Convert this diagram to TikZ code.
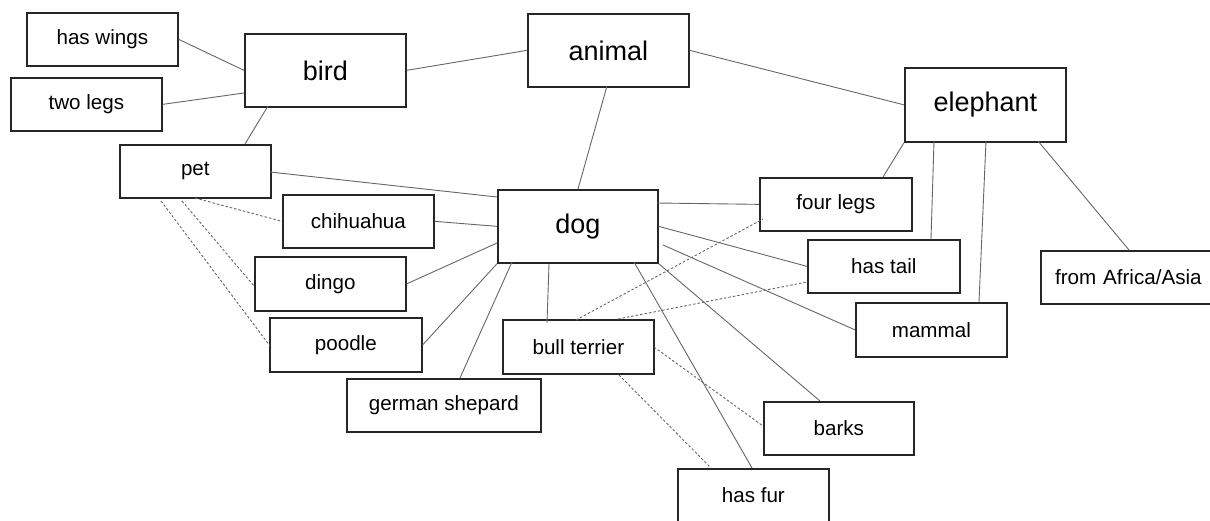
\documentclass[tikz,border=0pt]{standalone}
\usepackage{fontspec}
\setmainfont{Liberation Sans}
\begin{document}
\begin{tikzpicture}[x=1pt,y=-1pt,
  box/.style={draw=black!85,line width=1.7pt,rectangle,inner sep=0pt,anchor=north west,font=\fontsize{20.6}{24}\selectfont,minimum width=151pt,minimum height=53pt},
  bigbox/.style={box,font=\fontsize{27}{32}\selectfont,minimum width=161pt,minimum height=73pt},
  link/.style={draw=black!60,line width=0.9pt},
  dlink/.style={draw=black!60,line width=0.9pt,dash pattern=on 2.5pt off 2pt}]
\clip (0,0) rectangle (1210,520);
\useasboundingbox (0,0) rectangle (1210,520);
\node[box] (haswings) at (26,12) {has wings};
\node[box] (twolegs) at (10,77) {two legs};
\node[bigbox] (bird) at (244,33) {bird};
\node[box] (pet) at (119,144) {pet};
\node[bigbox] (animal) at (527,13) {animal};
\node[bigbox,minimum height=74pt] (elephant) at (904,67) {elephant};
\node[box,minimum width=152pt] (fourlegs) at (759,177) {four legs};
\node[box,minimum width=152pt] (hastail) at (807,239) {has tail};
\node[box,minimum width=175pt,text width=151pt,align=center] (africa) at (1040,250) {from Africa/Asia};
\node[box,minimum height=54pt] (mammal) at (855,302) {mammal};
\node[bigbox,minimum width=160pt] (dog) at (497,189) {dog};
\node[box,minimum height=54pt] (bullterrier) at (502,319) {bull terrier};
\node[box,minimum width=150pt] (barks) at (763,401) {barks};
\node[box] (hasfur) at (677,468) {has fur};
\node[box] (chihuahua) at (282,194) {chihuahua};
\node[box,minimum height=54pt] (dingo) at (254,256) {dingo};
\node[box,minimum width=152pt,minimum height=54pt] (poodle) at (269,317) {poodle};
\node[box,minimum width=194pt] (germanshepard) at (346,378) {german shepard};
% solid connectors
\path[link] (haswings.east) -- (bird.west);
\path[link] (twolegs.east) -- ([shift={(0,60)}]bird.north west);
\path[link] ([shift={(24,73)}]bird.north west) -- ([shift={(126,0)}]pet.north west);
\path[link] (bird.east) -- (animal.west);
\path[link] (animal.east) -- (elephant.west);
\path[link] ([shift={(80,73)}]animal.north west) -- ([shift={(81,0)}]dog.north west);
\path[link] ([shift={(151,28)}]pet.north west) -- ([shift={(0,8)}]dog.north west);
\path[link] (chihuahua.east) -- (dog.west);
\path[link] (dingo.east) -- ([shift={(0,54)}]dog.north west);
\path[link] (poodle.east) -- (dog.south west);
\path[link] ([shift={(114,0)}]germanshepard.north west) -- ([shift={(15,73)}]dog.north west);
\path[link] ([shift={(45,4)}]bullterrier.north west) -- ([shift={(52,75)}]dog.north west);
\path[link] ([shift={(160,14)}]dog.north west) -- (fourlegs.west);
\path[link] (dog.east) -- (hastail.west);
\path[link] ([shift={(166,56)}]dog.north west) -- (mammal.west);
\path[link] (dog.south east) -- ([shift={(57,0)}]barks.north west);
\path[link] ([shift={(137,73)}]dog.north west) -- ([shift={(75,0)}]hasfur.north west);
\path[link] (elephant.south west) -- ([shift={(124,0)}]fourlegs.north west);
\path[link] ([shift={(30,74)}]elephant.north west) -- ([shift={(124,0)}]hastail.north west);
\path[link] ([shift={(82,74)}]elephant.north west) -- ([shift={(124,0)}]mammal.north west);
\path[link] ([shift={(134,74)}]elephant.north west) -- ([shift={(89,0)}]africa.north west);
% dashed connectors
\path[dlink] ([shift={(76,54)}]pet.north west) -- (chihuahua.west);
\path[dlink] ([shift={(63,57)}]pet.north west) -- ([shift={(0,30)}]dingo.north west);
\path[dlink] ([shift={(42,57)}]pet.north west) -- ([shift={(1,29)}]poodle.north west);
\path[dlink] ([shift={(74,1)}]bullterrier.north west) -- ([shift={(4,42)}]fourlegs.north west);
\path[dlink] ([shift={(116,0)}]bullterrier.north west) -- ([shift={(0,43)}]hastail.north west);
\path[dlink] ([shift={(152,28)}]bullterrier.north west) -- ([shift={(0,25)}]barks.north west);
\path[dlink] ([shift={(117,56)}]bullterrier.north west) -- ([shift={(34,0)}]hasfur.north west);
\end{tikzpicture}
\end{document}
